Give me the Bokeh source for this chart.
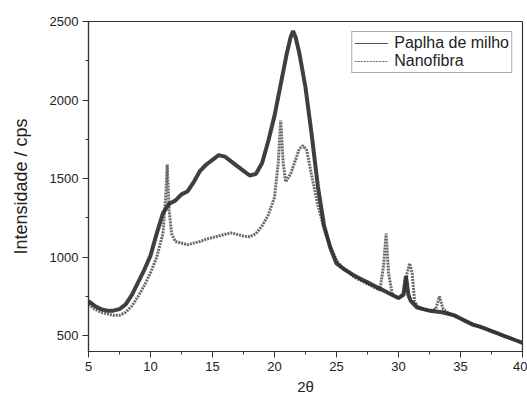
from bokeh.plotting import figure
from bokeh.models import Range1d, SingleIntervalTicker, Legend, LegendItem, ColumnDataSource
from bokeh.embed import file_html
from bokeh.resources import INLINE

# Paplha de milho (solid)
x_milho = [5, 5.5, 6, 6.5, 7, 7.5, 8, 8.5, 9, 9.5, 10, 10.5, 11, 11.5, 12, 12.5, 13, 13.5,
           14, 14.5, 15, 15.5, 16, 16.5, 17, 17.5, 18, 18.5, 19, 19.5, 20, 20.5, 21, 21.3,
           21.5, 21.7, 22, 22.5, 23, 23.5, 24, 24.5, 25, 25.5, 26, 26.5, 27, 27.5, 28, 28.5,
           29, 29.5, 30, 30.4, 30.6, 30.8, 31, 31.5, 32, 32.5, 33, 33.5, 34, 34.5, 35, 35.5,
           36, 36.5, 37, 37.5, 38, 38.5, 39, 39.5, 40]
y_milho = [720, 690, 670, 660, 660, 670, 700, 760, 840, 920, 1010, 1150, 1280, 1340, 1360, 1400,
           1420, 1480, 1550, 1590, 1620, 1650, 1640, 1610, 1580, 1550, 1520, 1530, 1600, 1740,
           1900, 2100, 2300, 2400, 2440, 2400, 2300, 2080, 1780, 1450, 1200, 1060, 960, 930,
           905, 880, 860, 840, 820, 800, 780, 760, 740, 760, 880, 760, 720, 680, 670, 660, 655,
           650, 640, 630, 610, 590, 570, 560, 545, 530, 515, 500, 485, 470, 455]

# Nanofibra (dashed)
x_nano = [5, 5.5, 6, 6.5, 7, 7.5, 8, 8.5, 9, 9.5, 10, 10.5, 11, 11.2, 11.35, 11.5, 11.7, 12,
          12.5, 13, 13.5, 14, 14.5, 15, 15.5, 16, 16.5, 17, 17.5, 18, 18.5, 19, 19.5, 20, 20.3,
          20.5, 20.7, 20.9, 21.3, 21.7, 22, 22.3, 22.6, 23, 23.5, 24, 24.5, 25, 25.5, 26, 26.5,
          27, 27.5, 28, 28.5, 28.8, 29, 29.2, 29.5, 30, 30.5, 30.7, 30.9, 31.1, 31.3, 31.5, 32,
          32.5, 33, 33.3, 33.6, 34, 34.5, 35, 35.5, 36, 36.5, 37, 37.5, 38, 38.5, 39, 39.5, 40]
y_nano = [700, 670, 650, 640, 630, 630, 650, 690, 750, 820, 900, 1000, 1150, 1350, 1590, 1300,
          1150, 1100, 1090, 1080, 1090, 1100, 1115, 1125, 1135, 1145, 1155, 1145, 1135, 1130,
          1150, 1200, 1270, 1380, 1600, 1870, 1600, 1480, 1530, 1620, 1690, 1710, 1680, 1520,
          1330, 1180, 1070, 980, 930, 900, 870, 850, 830, 810, 790, 950, 1150, 900, 760, 740,
          780, 900, 960, 900, 720, 690, 670, 660, 670, 750, 670, 645, 630, 610, 590, 575, 560,
          545, 530, 515, 500, 485, 470, 460]

x_ticks_interval = 5
y_ticks_interval = 500

FONT = "Liberation Sans"

p = figure(width=527, height=398, output_backend="svg", toolbar_location=None,
           x_range=Range1d(5, 40), y_range=Range1d(400, 2500),
           min_border_left=88, min_border_right=5, min_border_top=21, min_border_bottom=47)
p.grid.visible = False
p.outline_line_color = "#333333"
p.outline_line_width = 1.2
p.background_fill_color = "white"
p.border_fill_color = "white"

src_m = ColumnDataSource(dict(x=x_milho, y=y_milho))
src_n = ColumnDataSource(dict(x=x_nano, y=y_nano))

r_n = p.line("x", "y", source=src_n, line_color="#5a5a5a", line_width=3, line_dash="2 1", line_alpha=0.9)
r_m = p.line("x", "y", source=src_m, line_color="#2a2a2a", line_width=4, line_alpha=0.9)

# thin legend samples (kept outside the visible range)
leg_m = p.line(x=[0, 1], y=[0, 0], line_color="#555555", line_width=1)
leg_n = p.line(x=[0, 1], y=[0, 0], line_color="#666666", line_width=1, line_dash="2 1")

p.xaxis.ticker = SingleIntervalTicker(interval=x_ticks_interval, num_minor_ticks=2)
p.yaxis.ticker = SingleIntervalTicker(interval=y_ticks_interval, num_minor_ticks=2)

for ax in (p.xaxis[0], p.yaxis[0]):
    ax.axis_line_color = "#333333"
    ax.axis_line_width = 1.2
    ax.major_tick_line_color = "#333333"
    ax.minor_tick_line_color = "#333333"
    ax.major_tick_out = 6
    ax.major_tick_in = 0
    ax.minor_tick_out = 3
    ax.minor_tick_in = 0
    ax.major_label_text_font = FONT
    ax.major_label_text_font_size = "13px"
    ax.major_label_text_color = "#222222"
    ax.axis_label_text_font = FONT
    ax.axis_label_text_font_style = "normal"
    ax.axis_label_text_color = "#222222"

p.xaxis.axis_label = "2θ"
p.xaxis.axis_label_text_font_size = "15px"
p.xaxis.axis_label_standoff = 4
p.xaxis.major_label_standoff = 4
p.yaxis.axis_label = "Intensidade / cps"
p.yaxis.axis_label_text_font_size = "18px"
p.yaxis.axis_label_standoff = 16
p.yaxis.major_label_standoff = 4

legend = Legend(items=[LegendItem(label="Paplha de milho", renderers=[leg_m]),
                       LegendItem(label="Nanofibra", renderers=[leg_n])],
                location="top_right")
legend.margin = 10
legend.padding = 2
legend.spacing = 0
legend.label_height = 18
legend.glyph_height = 18
legend.glyph_width = 34
legend.label_standoff = 6
legend.label_text_font = FONT
legend.label_text_font_size = "16px"
legend.label_text_color = "#222222"
legend.border_line_color = "#555555"
legend.border_line_width = 1
legend.background_fill_alpha = 1
p.add_layout(legend)

open("out.html", "w").write(file_html(p, INLINE))
